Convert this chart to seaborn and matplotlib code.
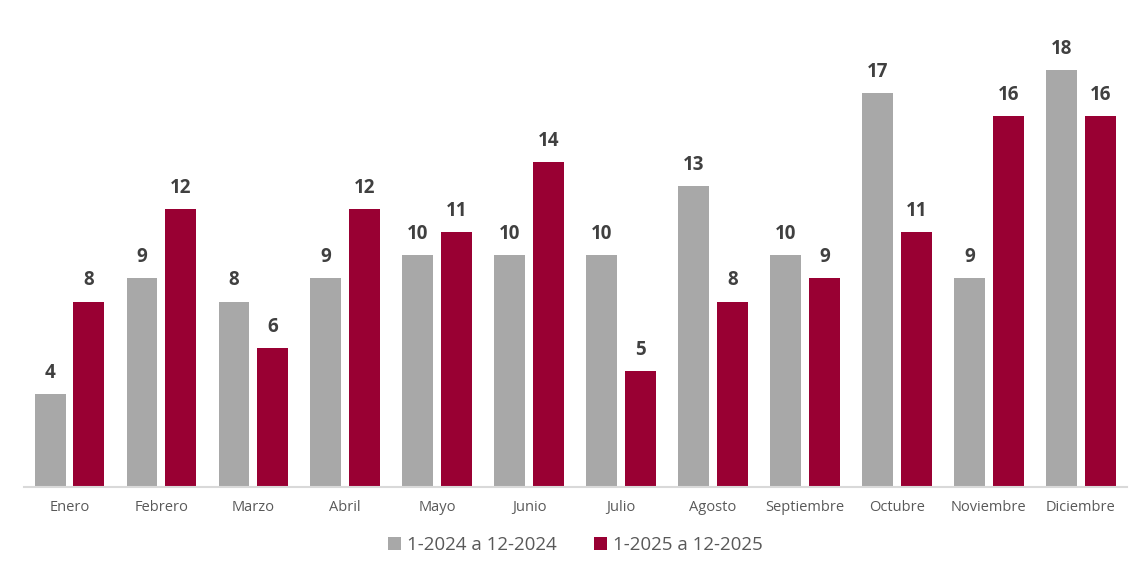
import numpy as np
import pandas as pd
import matplotlib
matplotlib.use('Agg')
import matplotlib.pyplot as plt
import seaborn as sns

meses = ['Enero', 'Febrero', 'Marzo', 'Abril', 'Mayo', 'Junio', 'Julio',
         'Agosto', 'Septiembre', 'Octubre', 'Noviembre', 'Diciembre']
serie_2024 = [4, 9, 8, 9, 10, 10, 10, 13, 10, 17, 9, 18]
serie_2025 = [8, 12, 6, 12, 11, 14, 5, 8, 9, 11, 16, 16]
nombres = ['1-2024 a 12-2024', '1-2025 a 12-2025']
colores = ['#A8A8A8', '#990033']

df = pd.DataFrame({
    'mes': meses * 2,
    'valor': serie_2024 + serie_2025,
    'periodo': [nombres[0]] * 12 + [nombres[1]] * 12,
})

sns.set_style('white')
plt.rcParams['font.family'] = ['Open Sans', 'DejaVu Sans']

fig = plt.figure(figsize=(11.48, 5.76), dpi=100)
ax = fig.add_axes([0.0205, 0.1545, 0.961, 0.805])

sns.barplot(data=df, x='mes', y='valor', hue='periodo', palette=colores,
            width=0.845, gap=0.205, saturation=1, linewidth=0, ax=ax, legend=True)

for cont in ax.containers:
    ax.bar_label(cont, padding=8, fontsize=13.5, fontweight='bold', color='#404040')

ax.set_ylim(0, 20)
ax.set_xlim(-0.5, 11.5)
ax.set_xlabel('')
ax.set_ylabel('')
ax.set_yticks([])
ax.tick_params(axis='x', length=0, labelsize=10.5, colors='#595959', pad=9)
for s in ['top', 'right', 'left']:
    ax.spines[s].set_visible(False)
ax.spines['bottom'].set_color('#D9D9D9')
ax.spines['bottom'].set_linewidth(1.5)

ax.legend(loc='upper center', bbox_to_anchor=(0.5, -0.07), ncol=2, frameon=False,
          fontsize=13.5, handlelength=0.7, handleheight=0.7, handletextpad=0.3,
          columnspacing=2.0, labelcolor='#595959')

fig.savefig('out.png', dpi=100)
